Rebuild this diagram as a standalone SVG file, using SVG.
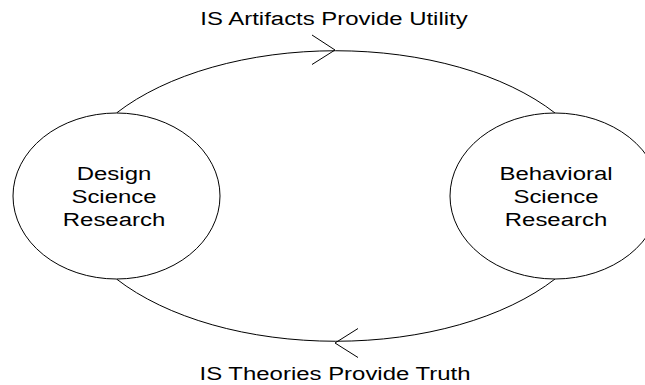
<svg xmlns="http://www.w3.org/2000/svg" width="645" height="385" viewBox="0 0 645 385">
  <style>
    .node { fill: #ffffff; stroke: #000000; stroke-width: 1; }
    .arc { fill: none; stroke: #000000; stroke-width: 1; }
    .label { font-family: "Liberation Sans", Arial, sans-serif; font-size: 19px; fill: #000000; text-anchor: middle; }
  </style>
  <rect width="645" height="385" fill="#ffffff"/>

  <!-- cycle between the two research paradigms -->
  <g id="connectors">
    <path class="arc" d="M116.5,113 A268,146.5 0 0 1 555,113"/>
    <path class="arc" d="M116.5,279 A268,146.5 0 0 0 555,279"/>
    <polyline class="arc" points="312,35 335,50 312,64.5"/>
    <polyline class="arc" points="358,328.5 335,343 358,357.5"/>
  </g>

  <g id="design-science">
    <ellipse class="node" cx="116.5" cy="196" rx="103.5" ry="83"/>
    <g transform="translate(114,0) scale(1.26,1)">
      <text class="label" x="0" y="180">Design</text>
      <text class="label" x="0" y="203">Science</text>
      <text class="label" x="0" y="226">Research</text>
    </g>
  </g>

  <g id="behavioral-science">
    <ellipse class="node" cx="555" cy="196" rx="105" ry="83"/>
    <g transform="translate(556,0) scale(1.26,1)">
      <text class="label" x="0" y="180">Behavioral</text>
      <text class="label" x="0" y="203">Science</text>
      <text class="label" x="0" y="226">Research</text>
    </g>
  </g>

  <g id="label-utility" transform="translate(334,0) scale(1.26,1)">
    <text class="label" x="0" y="25">IS Artifacts Provide Utility</text>
  </g>
  <g id="label-truth" transform="translate(335,0) scale(1.26,1)">
    <text class="label" x="0" y="380">IS Theories Provide Truth</text>
  </g>
</svg>
